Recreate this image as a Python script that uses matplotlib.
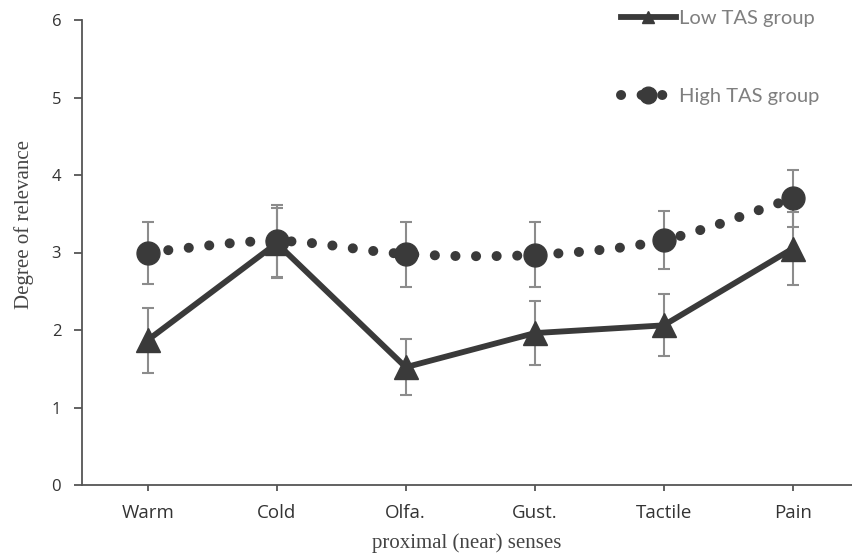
import numpy as np
import matplotlib
matplotlib.use("Agg")
import matplotlib.pyplot as plt
from matplotlib.path import Path
from matplotlib.patches import PathPatch
from matplotlib.lines import Line2D

categories = ["Warm", "Cold", "Olfa.", "Gust.", "Tactile", "Pain"]
low_tas = [1.87, 3.12, 1.52, 1.96, 2.06, 3.05]
low_err = [0.42, 0.45, 0.36, 0.41, 0.40, 0.47]
high_tas = [3.00, 3.15, 2.98, 2.97, 3.16, 3.70]
high_err = [0.40, 0.46, 0.42, 0.42, 0.37, 0.37]
yticks = [0, 1, 2, 3, 4, 5, 6]

dark = "#3a3a3a"
grey_err = "#8c8c8c"
dot_style = (0, (0.01, 2.05))

fig = plt.figure(figsize=(8.52, 5.57), dpi=100)
ax = fig.add_axes([82/852, 72/557, 1 - 82/852, 465/557])
x = np.arange(len(categories))

# error bars
for vals, errs in [(high_tas, high_err), (low_tas, low_err)]:
    ax.errorbar(x, vals, yerr=errs, fmt="none", ecolor=grey_err,
                elinewidth=1.5, capsize=4.3, capthick=1.5, zorder=1)

# smoothed dotted line for High TAS (Excel-style Bezier smoothing)
pts = list(zip(x, high_tas))
n = len(pts)
verts = [pts[0]]
codes = [Path.MOVETO]
for i in range(n - 1):
    p0 = pts[i - 1] if i > 0 else pts[i]
    p1 = pts[i]
    p2 = pts[i + 1]
    p3 = pts[i + 2] if i + 2 < n else pts[i + 1]
    c1 = (p1[0] + (p2[0] - p0[0]) / 6, p1[1] + (p2[1] - p0[1]) / 6)
    c2 = (p2[0] - (p3[0] - p1[0]) / 6, p2[1] - (p3[1] - p1[1]) / 6)
    verts += [c1, c2, p2]
    codes += [Path.CURVE4] * 3
patch = PathPatch(Path(verts, codes), facecolor="none", edgecolor=dark,
                  linewidth=7.2, linestyle=dot_style,
                  capstyle="round", zorder=2)
ax.add_patch(patch)
ax.plot(x, high_tas, linestyle="none", marker="o", markersize=16.5,
        color=dark, zorder=3)

# solid line Low TAS
ax.plot(x, low_tas, linestyle="-", linewidth=4.2, marker="^",
        markersize=17, color=dark, zorder=4)

ax.set_xlim(-0.51, 5.46)
ax.set_ylim(0, 6)
ax.set_yticks(yticks)
ax.set_xticks(x)
ax.set_xticklabels(categories, family=["Open Sans", "DejaVu Sans"],
                   fontsize=13.5, color="#333333")
ax.set_yticklabels([str(t) for t in yticks], family=["Open Sans", "DejaVu Sans"],
                   fontsize=12, color="#333333")
for s in ["top", "right"]:
    ax.spines[s].set_visible(False)
for s in ["left", "bottom"]:
    ax.spines[s].set_color("#555555")
    ax.spines[s].set_linewidth(1.3)
ax.tick_params(axis="y", direction="out", length=6, width=1.3, color="#555555", pad=9)
ax.tick_params(axis="x", direction="out", length=4, width=1.3, color="#555555", pad=10)

ax.set_ylabel("Degree of relevance", family="Liberation Serif", fontsize=15,
              color="#444444")
ax.yaxis.set_label_coords(-0.062, 0.56)
ax.set_xlabel("proximal (near) senses", family="Liberation Serif", fontsize=15,
              color="#444444", labelpad=8)

# legend
h_low = Line2D([], [], color=dark, linewidth=4.2, marker="^", markersize=9)
h_high = Line2D([], [], color=dark, linewidth=7.2, linestyle=dot_style,
                dash_capstyle="round", marker="o", markersize=12)
leg = fig.legend([h_low, h_high], ["Low TAS group", "High TAS group"],
                 loc="upper left", bbox_to_anchor=(603/852, 1.014), frameon=False,
                 labelspacing=3.0, handlelength=2.7, handletextpad=0.15,
                 prop={"family": ["Lato", "DejaVu Sans"], "size": 14.5})
for t in leg.get_texts():
    t.set_color("#7f7f7f")

fig.savefig("out.png", dpi=100)
